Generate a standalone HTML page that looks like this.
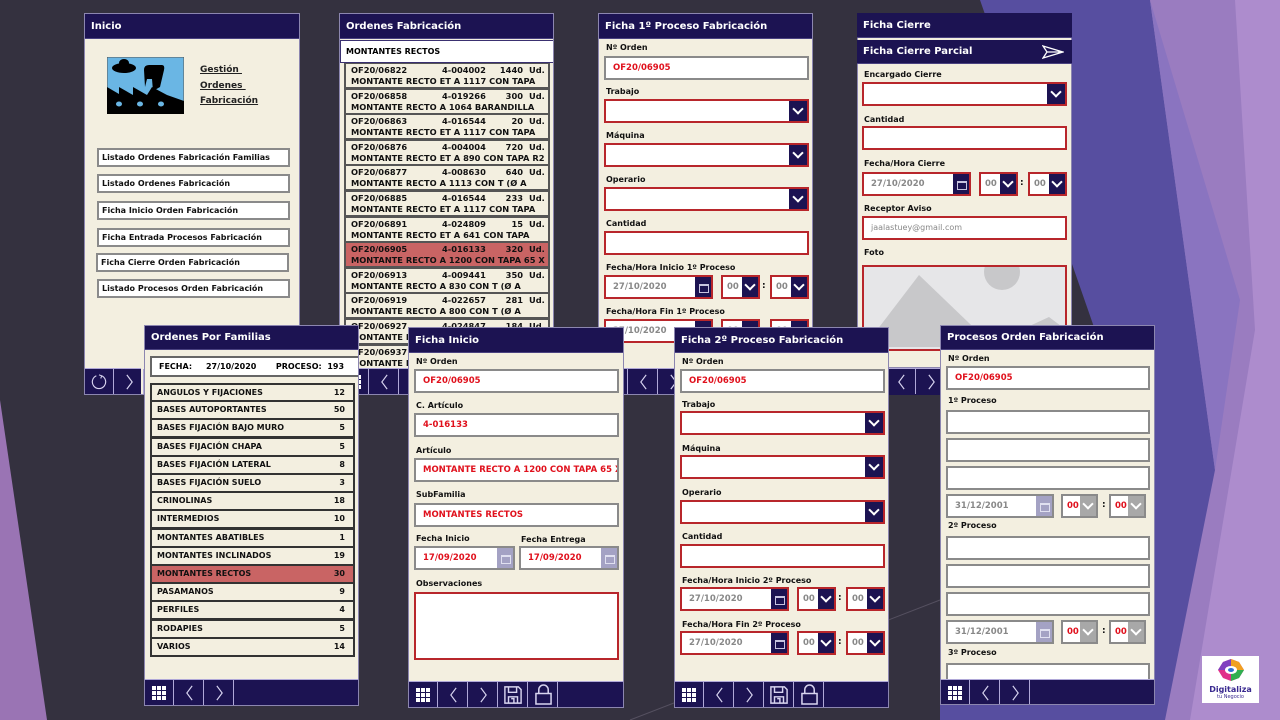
<!DOCTYPE html>
<html><head><meta charset="utf-8">
<style>
*{margin:0;padding:0;box-sizing:border-box}
body{width:1280px;height:720px;overflow:hidden;background:#34313f;position:relative;font-family:"DejaVu Sans","Liberation Sans",sans-serif}
.bg{position:absolute;left:0;top:0}
.p{position:absolute;background:#f3efe0;overflow:hidden;border:1px solid #8c86b0}
.h{position:absolute;left:0;right:0;top:0;height:25px;background:#1c1352;color:#fff;font-weight:bold;font-size:10px;line-height:25px;padding-left:6px;border-bottom:1px solid #4a4280}
.l{position:absolute;left:7px;font-weight:bold;font-size:8px;color:#111;white-space:nowrap}
.i{position:absolute;left:5px;width:205px;height:24px;background:#fff;border:2px solid #8a8a8a;font-weight:bold;font-size:8.5px;color:#e0101c;line-height:20px;padding-left:7px;white-space:nowrap;overflow:hidden}
.i.s{padding-left:4px}
.r{border-color:#b8262b}
.c{position:absolute;right:0;top:0;bottom:0;width:18px;background:#1c1352}
.s .c{width:16px}
.c:after{content:"";position:absolute;left:5px;top:4px;width:6px;height:6px;border-right:2px solid #fff;border-bottom:2px solid #fff;transform:rotate(45deg)}
.s .c:after{left:4px}
.c.g{background:#a8a8a8}
.k{position:absolute;right:0;top:0;bottom:0;width:16px;background:#1c1352}
.k:after{content:"";position:absolute;left:4px;top:7px;width:8px;height:6px;border:1px solid #c8c4e0;border-top-width:2px}
.k.g{background:#a4a2c4}
.k.g:after{border-color:#e0e0f0}
.d{color:#888;font-weight:bold}
.f{position:absolute;left:0;right:0;bottom:0;height:26px;background:#1c1352;border-top:1px solid #b0a8d8}
.b{position:absolute;top:0;width:29px;height:25px;border-right:1px solid #b0a8d8;display:flex;align-items:center;justify-content:center}
.row{position:absolute;left:4px;width:206px;height:26px;border:2px solid #555;border-top-width:1px;font-weight:bold;font-size:8.3px;color:#111;line-height:11px;padding:1px 0 0 5px;white-space:nowrap;overflow:hidden}
.row span{position:absolute}
.fr{position:absolute;left:5px;width:205px;height:19px;border:2px solid #333;border-top-width:1px;font-weight:bold;font-size:8px;line-height:16px;padding-left:5px;color:#111}
.fr span{position:absolute;right:8px}
.btn{position:absolute;left:12px;width:193px;height:19px;background:#fff;border:2px solid #8a8a8a;font-weight:bold;font-size:8px;line-height:15px;padding-left:3px;color:#111;white-space:nowrap}
.col{position:absolute;font-weight:bold;font-size:9px;color:#111}
</style></head><body>
<svg width="0" height="0" style="position:absolute">
<defs>
<symbol id="gr" viewBox="0 0 14 14"><g fill="#fff"><rect x="0" y="0" width="4" height="4"/><rect x="5" y="0" width="4" height="4"/><rect x="10" y="0" width="4" height="4"/><rect x="0" y="5" width="4" height="4"/><rect x="5" y="5" width="4" height="4"/><rect x="10" y="5" width="4" height="4"/><rect x="0" y="10" width="4" height="4"/><rect x="5" y="10" width="4" height="4"/><rect x="10" y="10" width="4" height="4"/></g></symbol>
<symbol id="lt" viewBox="0 0 10 18"><polyline points="8,1 2,9 8,17" fill="none" stroke="#d8d4f0" stroke-width="1.3"/></symbol>
<symbol id="gt" viewBox="0 0 10 18"><polyline points="2,1 8,9 2,17" fill="none" stroke="#d8d4f0" stroke-width="1.3"/></symbol>
<symbol id="sv" viewBox="0 0 20 20"><path d="M1 1H16L19 4V19H1Z M5 1V7H14V1 M5 19V12H15V19 M8 14H11V19" fill="none" stroke="#d8d4f0" stroke-width="1.6"/></symbol>
<symbol id="lk" viewBox="0 0 18 22"><path d="M4 10V6A5 5 0 0 1 14 6V10 M1 10H17V21H1Z" fill="none" stroke="#d8d4f0" stroke-width="1.6"/></symbol>
<symbol id="rf" viewBox="0 0 18 18"><path d="M6 2A7.5 7.5 0 1 0 12 2" fill="none" stroke="#d8d4f0" stroke-width="1.3"/><polyline points="9,1 12,2 11,5" fill="none" stroke="#d8d4f0" stroke-width="1.2"/></symbol>
</defs></svg>

<svg class="bg" width="1280" height="720">
<polygon points="0,400 47,720 0,720" fill="#9a74b4"/>
<polygon points="1100,0 1280,0 1280,720 1100,720" fill="#9a7cc0"/>
<polygon points="1235,0 1280,0 1280,720 1190,720 1255,330" fill="#ad8ccd"/>
<polygon points="980,0 1150,0 1215,470 1165,720 940,720 940,420 1095,330" fill="#574ea0"/>
<polygon points="1150,0 1215,470 1240,300" fill="#8a74c0"/>
<line x1="630" y1="720" x2="940" y2="600" stroke="#555060" stroke-width="1"/>
</svg>

<!-- Inicio -->
<div class="p" style="left:84px;top:13px;width:216px;height:382px">
<div class="h">Inicio</div>
<svg style="position:absolute;left:22px;top:43px" width="77" height="57" viewBox="0 0 77 57">
<rect width="77" height="57" fill="#6ab6e4" stroke="#555" stroke-width="1"/>
<path d="M0 30 L12 37 L12 30 L26 38 L26 30 L40 38 L45 30 L60 38 L77 44 L77 57 L0 57Z" fill="#000"/>
<ellipse cx="17" cy="11" rx="12" ry="5" fill="#000"/><ellipse cx="17" cy="6" rx="5" ry="4" fill="#000"/>
<path d="M37 13 Q37 8 42 8 L55 8 Q58 8 57 13 L53 30 L46 34 L45 22 L40 22 L38 30Z" fill="#000"/>
<ellipse cx="12" cy="47" rx="3" ry="2.5" fill="#6ab6e4"/><ellipse cx="33" cy="47" rx="3" ry="2.5" fill="#6ab6e4"/><ellipse cx="54" cy="47" rx="3" ry="2.5" fill="#6ab6e4"/>
</svg>
<div style="position:absolute;left:115px;top:49px;font-weight:bold;font-size:9px;line-height:15.5px;text-decoration:underline;color:#222">Gestión&nbsp;<br>Ordenes&nbsp;<br>Fabricación</div>
<div class="btn" style="top:134px">Listado Ordenes Fabricación Familias</div>
<div class="btn" style="top:160px">Listado Ordenes Fabricación</div>
<div class="btn" style="top:187px">Ficha Inicio Orden Fabricación</div>
<div class="btn" style="top:214px">Ficha Entrada Procesos Fabricación</div>
<div class="btn" style="top:239px;left:11px">Ficha Cierre Orden Fabricación</div>
<div class="btn" style="top:265px">Listado Procesos Orden Fabricación</div>
<div class="f" style="right:158px;background:#1c1352"><div class="b" style="left:0"><svg width="16" height="16"><use href="#rf"/></svg></div><div class="b" style="left:30px"><svg width="9" height="16"><use href="#gt"/></svg></div></div>
</div>

<!-- Ordenes Fabricacion -->
<div class="p" style="left:339px;top:13px;width:215px;height:382px">
<div class="h">Ordenes Fabricación</div>
<div style="position:absolute;left:0;top:26px;width:215px;height:23px;background:#fff;border:1px solid #3a3070;font-weight:bold;font-size:8px;line-height:21px;padding-left:5px">MONTANTES RECTOS</div>
<div class="row" style="top:49px">OF20/06822<span style="left:96px;top:1px">4-004002</span><span style="left:145px;top:1px;width:32px;text-align:right">1440</span><span style="left:183px;top:1px">Ud.</span><br>MONTANTE RECTO ET A 1117 CON TAPA</div>
<div class="row" style="top:74.6px">OF20/06858<span style="left:96px;top:1px">4-019266</span><span style="left:145px;top:1px;width:32px;text-align:right">300</span><span style="left:183px;top:1px">Ud.</span><br>MONTANTE RECTO A 1064 BARANDILLA</div>
<div class="row" style="top:100.2px">OF20/06863<span style="left:96px;top:1px">4-016544</span><span style="left:145px;top:1px;width:32px;text-align:right">20</span><span style="left:183px;top:1px">Ud.</span><br>MONTANTE RECTO ET A 1117 CON TAPA</div>
<div class="row" style="top:125.8px">OF20/06876<span style="left:96px;top:1px">4-004004</span><span style="left:145px;top:1px;width:32px;text-align:right">720</span><span style="left:183px;top:1px">Ud.</span><br>MONTANTE RECTO ET A 890 CON TAPA R2</div>
<div class="row" style="top:151.4px">OF20/06877<span style="left:96px;top:1px">4-008630</span><span style="left:145px;top:1px;width:32px;text-align:right">640</span><span style="left:183px;top:1px">Ud.</span><br>MONTANTE RECTO A 1113 CON T (Ø A</div>
<div class="row" style="top:177px">OF20/06885<span style="left:96px;top:1px">4-016544</span><span style="left:145px;top:1px;width:32px;text-align:right">233</span><span style="left:183px;top:1px">Ud.</span><br>MONTANTE RECTO ET A 1117 CON TAPA</div>
<div class="row" style="top:202.6px">OF20/06891<span style="left:96px;top:1px">4-024809</span><span style="left:145px;top:1px;width:32px;text-align:right">15</span><span style="left:183px;top:1px">Ud.</span><br>MONTANTE RECTO ET A 641 CON TAPA</div>
<div class="row" style="top:228.2px;background:#c96464">OF20/06905<span style="left:96px;top:1px">4-016133</span><span style="left:145px;top:1px;width:32px;text-align:right">320</span><span style="left:183px;top:1px">Ud.</span><br>MONTANTE RECTO A 1200 CON TAPA 65 X</div>
<div class="row" style="top:253.8px">OF20/06913<span style="left:96px;top:1px">4-009441</span><span style="left:145px;top:1px;width:32px;text-align:right">350</span><span style="left:183px;top:1px">Ud.</span><br>MONTANTE RECTO A 830 CON T (Ø A</div>
<div class="row" style="top:279.4px">OF20/06919<span style="left:96px;top:1px">4-022657</span><span style="left:145px;top:1px;width:32px;text-align:right">281</span><span style="left:183px;top:1px">Ud.</span><br>MONTANTE RECTO A 800 CON T (Ø A</div>
<div class="row" style="top:305px">OF20/06927<span style="left:96px;top:1px">4-024847</span><span style="left:145px;top:1px;width:32px;text-align:right">184</span><span style="left:183px;top:1px">Ud.</span><br>MONTANTE RECTO A</div>
<div class="row" style="top:330.6px">OF20/06937<br>MONTANTE RECTO</div>
<div class="f"><div class="b" style="left:0"><svg width="14" height="14"><use href="#gr"/></svg></div><div class="b" style="left:30px"><svg width="9" height="16"><use href="#lt"/></svg></div><div class="b" style="left:60px"><svg width="9" height="16"><use href="#gt"/></svg></div></div>
</div>

<!-- Ficha 1 -->
<div class="p" style="left:598px;top:13px;width:215px;height:382px">
<div class="h">Ficha 1º Proceso Fabricación</div>
<div class="l" style="top:29px">Nº Orden</div>
<div class="i" style="top:42px">OF20/06905</div>
<div class="l" style="top:73px">Trabajo</div>
<div class="i r" style="top:85px"><b class="c"></b></div>
<div class="l" style="top:117px">Máquina</div>
<div class="i r" style="top:129px"><b class="c"></b></div>
<div class="l" style="top:161px">Operario</div>
<div class="i r" style="top:173px"><b class="c"></b></div>
<div class="l" style="top:205px">Cantidad</div>
<div class="i r" style="top:217px"></div>
<div class="l" style="top:249px">Fecha/Hora Inicio 1º Proceso</div>
<div class="i r d" style="top:261px;width:109px">27/10/2020<b class="k"></b></div>
<div class="i r d s" style="top:261px;left:122px;width:39px">00<b class="c"></b></div>
<div class="col" style="left:163px;top:267px">:</div>
<div class="i r d s" style="top:261px;left:171px;width:39px">00<b class="c"></b></div>
<div class="l" style="top:293px">Fecha/Hora Fin 1º Proceso</div>
<div class="i r d" style="top:305px;width:109px">27/10/2020<b class="k"></b></div>
<div class="i r d s" style="top:305px;left:122px;width:39px">00<b class="c"></b></div>
<div class="i r d s" style="top:305px;left:171px;width:39px">00<b class="c"></b></div>
<div class="f"><div class="b" style="left:0"><svg width="14" height="14"><use href="#gr"/></svg></div><div class="b" style="left:30px"><svg width="9" height="16"><use href="#lt"/></svg></div><div class="b" style="left:60px"><svg width="9" height="16"><use href="#gt"/></svg></div></div>
</div>

<!-- Ficha Cierre -->
<div class="p" style="left:857px;top:13px;width:215px;height:382px;background:transparent;border:none">
<div style="position:absolute;left:0;top:0;width:215px;height:355px;background:#f3efe0;border:1px solid #8c86b0"></div>
<div class="h">Ficha Cierre</div>
<div class="h" style="top:27px;height:24px;line-height:24px">Ficha Cierre Parcial<svg style="position:absolute;right:8px;top:5px" width="22" height="14"><path d="M1 1L21 7L1 13L5 7Z M5 7H21" fill="none" stroke="#fff" stroke-width="1.3"/></svg></div>
<div class="l" style="top:57px">Encargado Cierre</div>
<div class="i r" style="top:69px"><b class="c"></b></div>
<div class="l" style="top:102px">Cantidad</div>
<div class="i r" style="top:113px"></div>
<div class="l" style="top:146px">Fecha/Hora Cierre</div>
<div class="i r d" style="top:159px;width:109px">27/10/2020<b class="k"></b></div>
<div class="i r d s" style="top:159px;left:122px;width:39px">00<b class="c"></b></div>
<div class="col" style="left:163px;top:165px">:</div>
<div class="i r d s" style="top:159px;left:171px;width:39px">00<b class="c"></b></div>
<div class="l" style="top:191px">Receptor Aviso</div>
<div class="i r" style="top:203px;color:#888;font-weight:normal;font-size:8px">jaalastuey@gmail.com</div>
<div class="l" style="top:235px">Foto</div>
<div style="position:absolute;left:5px;top:252px;width:205px;height:86px;border:2px solid #b8262b;background:#e6e6e8;overflow:hidden">
<svg width="205" height="86"><polygon points="0,80 55,8 130,80" fill="#c8c8ca"/><polygon points="120,80 185,50 205,65 205,86 110,86" fill="#c8c8ca"/><circle cx="138" cy="5" r="18" fill="#c8c8ca"/></svg></div>
<div class="f" style="height:27px;right:115px"><div class="b" style="left:0"><svg width="14" height="14"><use href="#gr"/></svg></div><div class="b" style="left:30px"><svg width="9" height="16"><use href="#lt"/></svg></div><div class="b" style="left:60px"><svg width="9" height="16"><use href="#gt"/></svg></div></div>
</div>

<!-- Ordenes por Familias -->
<div class="p" style="left:144px;top:325px;width:215px;height:381px">
<div class="h" style="height:24px;line-height:24px">Ordenes Por Familias</div>
<div style="position:absolute;left:5px;top:30px;width:220px;height:21px;background:#fff;border:2px solid #666;font-weight:bold;font-size:8px;line-height:17px;padding-left:7px;white-space:nowrap">FECHA:&nbsp;&nbsp;&nbsp;&nbsp;&nbsp;27/10/2020&nbsp;&nbsp;&nbsp;&nbsp;&nbsp;&nbsp;&nbsp;PROCESO:&nbsp; 193</div>
<div class="fr" style="top:57px;border-top-width:2px">ANGULOS Y FIJACIONES<span>12</span></div>
<div class="fr" style="top:75.2px">BASES AUTOPORTANTES<span>50</span></div>
<div class="fr" style="top:93.4px">BASES FIJACIÓN BAJO MURO<span>5</span></div>
<div class="fr" style="top:111.6px">BASES FIJACIÓN CHAPA<span>5</span></div>
<div class="fr" style="top:129.8px">BASES FIJACIÓN LATERAL<span>8</span></div>
<div class="fr" style="top:148px">BASES FIJACIÓN SUELO<span>3</span></div>
<div class="fr" style="top:166.2px">CRINOLINAS<span>18</span></div>
<div class="fr" style="top:184.4px">INTERMEDIOS<span>10</span></div>
<div class="fr" style="top:202.6px">MONTANTES ABATIBLES<span>1</span></div>
<div class="fr" style="top:220.8px">MONTANTES INCLINADOS<span>19</span></div>
<div class="fr" style="top:239px;background:#c96464">MONTANTES RECTOS<span>30</span></div>
<div class="fr" style="top:257.2px">PASAMANOS<span>9</span></div>
<div class="fr" style="top:275.4px">PERFILES<span>4</span></div>
<div class="fr" style="top:293.6px">RODAPIES<span>5</span></div>
<div class="fr" style="top:311.8px;border-bottom-width:2px">VARIOS<span>14</span></div>
<div class="f"><div class="b" style="left:0"><svg width="14" height="14"><use href="#gr"/></svg></div><div class="b" style="left:30px"><svg width="9" height="16"><use href="#lt"/></svg></div><div class="b" style="left:60px"><svg width="9" height="16"><use href="#gt"/></svg></div></div>
</div>

<!-- Ficha Inicio -->
<div class="p" style="left:408px;top:327px;width:216px;height:381px">
<div class="h">Ficha Inicio</div>
<div class="l" style="top:29px">Nº Orden</div>
<div class="i" style="top:41px">OF20/06905</div>
<div class="l" style="top:73px">C. Artículo</div>
<div class="i" style="top:85px">4-016133</div>
<div class="l" style="top:118px">Artículo</div>
<div class="i" style="top:130px">MONTANTE RECTO A 1200 CON TAPA 65 X 2</div>
<div class="l" style="top:162px">SubFamilia</div>
<div class="i" style="top:175px">MONTANTES RECTOS</div>
<div class="l" style="top:206px">Fecha Inicio</div>
<div class="l" style="top:207px;left:112px">Fecha Entrega</div>
<div class="i" style="top:218px;width:101px">17/09/2020<b class="k g"></b></div>
<div class="i" style="top:218px;left:110px;width:100px">17/09/2020<b class="k g"></b></div>
<div class="l" style="top:251px">Observaciones</div>
<div class="i r" style="top:264px;height:68px"></div>
<div class="f"><div class="b" style="left:0"><svg width="14" height="14"><use href="#gr"/></svg></div><div class="b" style="left:30px"><svg width="9" height="16"><use href="#lt"/></svg></div><div class="b" style="left:60px"><svg width="9" height="16"><use href="#gt"/></svg></div><div class="b" style="left:90px"><svg width="18" height="18"><use href="#sv"/></svg></div><div class="b" style="left:120px"><svg width="17" height="21"><use href="#lk"/></svg></div></div>
</div>

<!-- Ficha 2 -->
<div class="p" style="left:674px;top:327px;width:215px;height:381px">
<div class="h">Ficha 2º Proceso Fabricación</div>
<div class="l" style="top:29px">Nº Orden</div>
<div class="i" style="top:41px">OF20/06905</div>
<div class="l" style="top:72px">Trabajo</div>
<div class="i r" style="top:83px"><b class="c"></b></div>
<div class="l" style="top:116px">Máquina</div>
<div class="i r" style="top:127px"><b class="c"></b></div>
<div class="l" style="top:160px">Operario</div>
<div class="i r" style="top:172px"><b class="c"></b></div>
<div class="l" style="top:204px">Cantidad</div>
<div class="i r" style="top:216px"></div>
<div class="l" style="top:248px">Fecha/Hora Inicio 2º Proceso</div>
<div class="i r d" style="top:259px;width:109px">27/10/2020<b class="k"></b></div>
<div class="i r d s" style="top:259px;left:122px;width:39px">00<b class="c"></b></div>
<div class="col" style="left:163px;top:265px">:</div>
<div class="i r d s" style="top:259px;left:171px;width:39px">00<b class="c"></b></div>
<div class="l" style="top:292px">Fecha/Hora Fin 2º Proceso</div>
<div class="i r d" style="top:303px;width:109px">27/10/2020<b class="k"></b></div>
<div class="i r d s" style="top:303px;left:122px;width:39px">00<b class="c"></b></div>
<div class="col" style="left:163px;top:309px">:</div>
<div class="i r d s" style="top:303px;left:171px;width:39px">00<b class="c"></b></div>
<div class="f"><div class="b" style="left:0"><svg width="14" height="14"><use href="#gr"/></svg></div><div class="b" style="left:30px"><svg width="9" height="16"><use href="#lt"/></svg></div><div class="b" style="left:60px"><svg width="9" height="16"><use href="#gt"/></svg></div><div class="b" style="left:90px"><svg width="18" height="18"><use href="#sv"/></svg></div><div class="b" style="left:120px"><svg width="17" height="21"><use href="#lk"/></svg></div></div>
</div>

<!-- Procesos -->
<div class="p" style="left:940px;top:325px;width:215px;height:380px">
<div class="h" style="height:24px;line-height:24px">Procesos Orden Fabricación</div>
<div class="l" style="top:28px">Nº Orden</div>
<div class="i" style="top:40px;width:204px">OF20/06905</div>
<div class="l" style="top:70px">1º Proceso</div>
<div class="i" style="top:84px;width:204px"></div>
<div class="i" style="top:112px;width:204px"></div>
<div class="i" style="top:140px;width:204px"></div>
<div class="i d" style="top:168px;width:108px">31/12/2001<b class="k g"></b></div>
<div class="i s" style="top:168px;left:120px;width:37px">00<b class="c g"></b></div>
<div class="col" style="left:161px;top:174px">:</div>
<div class="i s" style="top:168px;left:168px;width:37px">00<b class="c g"></b></div>
<div class="l" style="top:195px">2º Proceso</div>
<div class="i" style="top:210px;width:204px"></div>
<div class="i" style="top:238px;width:204px"></div>
<div class="i" style="top:266px;width:204px"></div>
<div class="i d" style="top:294px;width:108px">31/12/2001<b class="k g"></b></div>
<div class="i s" style="top:294px;left:120px;width:37px">00<b class="c g"></b></div>
<div class="col" style="left:161px;top:300px">:</div>
<div class="i s" style="top:294px;left:168px;width:37px">00<b class="c g"></b></div>
<div class="l" style="top:322px">3º Proceso</div>
<div class="i" style="top:337px;width:204px"></div>
<div class="f" style="height:25px"><div class="b" style="left:0"><svg width="14" height="14"><use href="#gr"/></svg></div><div class="b" style="left:30px"><svg width="9" height="16"><use href="#lt"/></svg></div><div class="b" style="left:60px"><svg width="9" height="16"><use href="#gt"/></svg></div></div>
</div>

<!-- Logo -->
<div style="position:absolute;left:1202px;top:656px;width:57px;height:47px;background:#fff;text-align:center">
<svg width="28" height="24" style="margin-top:2px" viewBox="0 0 28 24"><polygon points="14,1 22,4 27,12 22,20 14,23 6,20 1,12 6,4" fill="#e0308a"/><polygon points="14,1 22,4 27,12 14,12" fill="#f0a020"/><polygon points="27,12 22,20 14,23 14,12" fill="#30b050"/><polygon points="1,12 6,4 14,1 14,12" fill="#8040c0"/><ellipse cx="14" cy="12" rx="6" ry="4" fill="#fff"/><ellipse cx="14" cy="12" rx="3" ry="2" fill="#3070d0"/></svg>
<div style="font-weight:bold;font-size:8px;color:#3a2a90;line-height:9px;margin-top:-1px">Digitaliza</div>
<div style="font-size:5px;color:#3a2a90;line-height:6px">tu Negocio</div>
</div>
</body></html>
